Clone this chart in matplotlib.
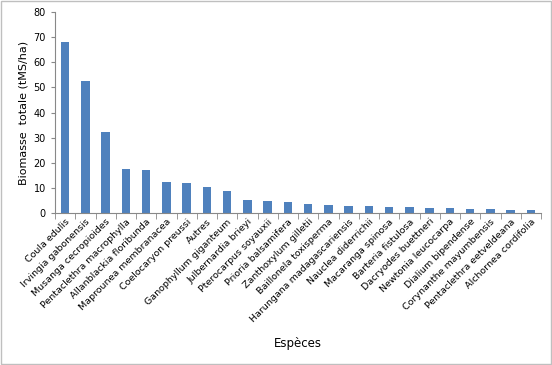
import matplotlib.pyplot as plt
import numpy as np

# Espèces et biomasse totale (tMS/ha)
especes = ["Coula edulis", "Irvingia gabonensis", "Musanga cecropioides",
           "Pentaclethra macrophylla", "Allanblackia floribunda",
           "Maprounea membranacea", "Coelocaryon preussi", "Autres",
           "Ganophyllum giganteum", "Julbernardia brieyi", "Pterocarpus soyauxii",
           "Prioria balsamifera", "Zanthoxylum gilletii", "Baillonela toxisperma",
           "Harungana madagascariensis", "Nauclea diderrichii", "Macaranga spinosa",
           "Barteria fistulosa", "Dacryodes buettneri", "Newtonia leucocarpa",
           "Dialium bipendense", "Corynanthe mayumbensis",
           "Pentaclethra eetveldeana", "Alchornea cordifolia"]
biomasse = [68.0, 52.5, 32.3, 17.6, 17.2, 12.2, 12.0, 10.3, 8.9, 5.0, 4.8,
            4.2, 3.7, 3.3, 2.9, 2.6, 2.5, 2.5, 2.1, 2.1, 1.7, 1.4, 1.3, 1.3]
yticks = [0, 10, 20, 30, 40, 50, 60, 70, 80]

fig = plt.figure(figsize=(5.52, 3.65), dpi=100)
ax = fig.add_axes([55 / 552, 152 / 365, 486 / 552, 201 / 365])

x = np.arange(len(especes))
ax.bar(x, biomasse, width=0.42, color="#4f81bd")

ax.set_xlim(-0.5, len(especes) - 0.5)
ax.set_ylim(0, 80)
ax.set_yticks(yticks)
ax.tick_params(axis="y", labelsize=7, length=3, color="#888888")
ax.set_xticks(x)
ax.set_xticklabels(especes, rotation=45, ha="right", rotation_mode="anchor",
                   fontsize=6.8)
ax.tick_params(axis="x", length=0, pad=3)
ax.set_xticks(np.arange(len(especes) + 1) - 0.5, minor=True)
ax.tick_params(axis="x", which="minor", length=4, color="#888888")

for s in ["top", "right"]:
    ax.spines[s].set_visible(False)
for s in ["left", "bottom"]:
    ax.spines[s].set_color("#888888")

ax.set_ylabel("Biomasse  totale (tMS/ha)", fontsize=8)
fig.text(0.54, 0.06, "Espèces", fontsize=8.5, ha="center", va="center")

# cadre gris autour de la figure
fig.patches.append(plt.Rectangle((0.002, 0.003), 0.996, 0.994, transform=fig.transFigure,
                                 fill=False, edgecolor="#bfbfbf", linewidth=1))

fig.savefig("out.png", dpi=100)
